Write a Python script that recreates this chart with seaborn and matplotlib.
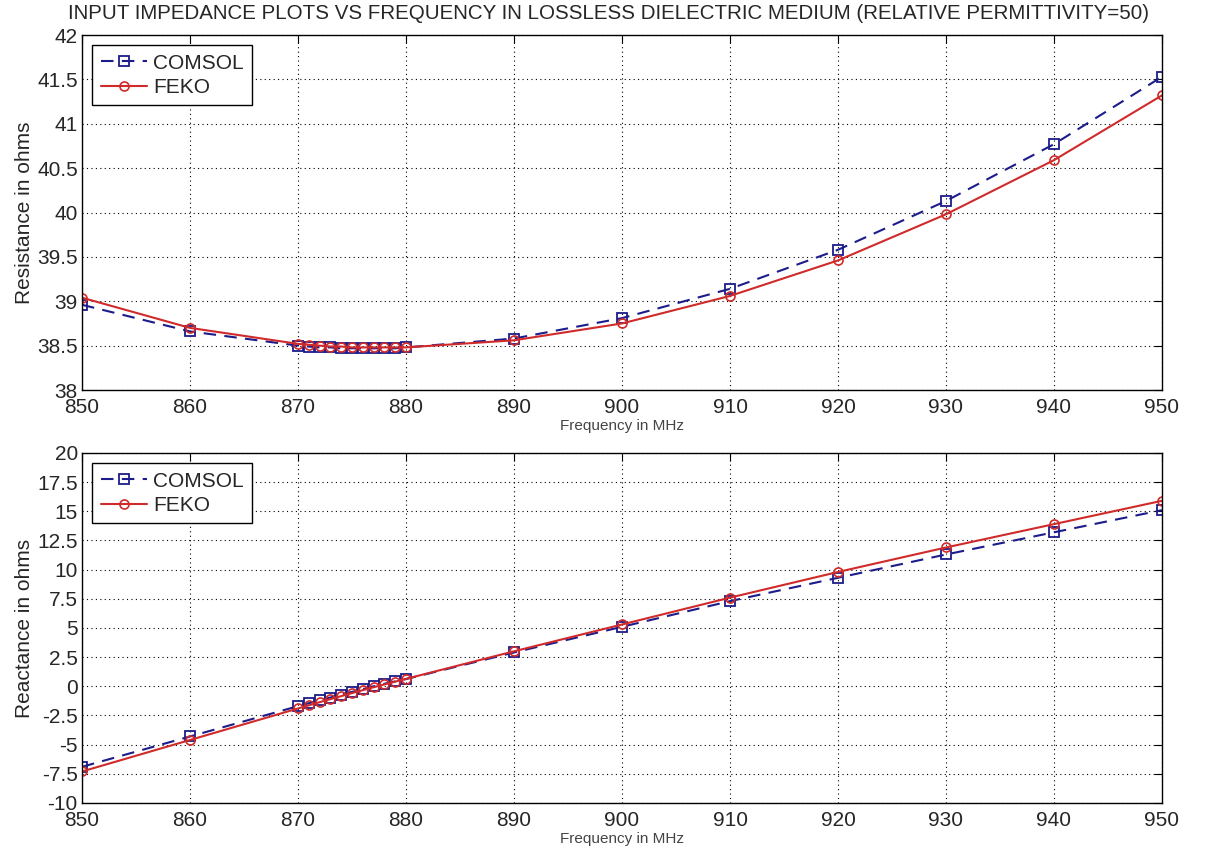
import numpy as np
import pandas as pd
import seaborn as sns
import matplotlib.pyplot as plt
from matplotlib.ticker import FuncFormatter

# frequency points (MHz)
freq = [850, 860, 870, 871, 872, 873, 874, 875, 876, 877, 878, 879, 880,
        890, 900, 910, 920, 930, 940, 950]

# resistance (ohms)
res_comsol = [38.96, 38.66, 38.50, 38.49, 38.48, 38.48, 38.47, 38.47, 38.47, 38.47, 38.47, 38.47, 38.48,
              38.58, 38.81, 39.14, 39.58, 40.13, 40.77, 41.53]
res_feko = [39.04, 38.70, 38.52, 38.51, 38.50, 38.49, 38.49, 38.48, 38.48, 38.48, 38.48, 38.48, 38.48,
            38.56, 38.75, 39.06, 39.46, 39.98, 40.59, 41.32]

# reactance (ohms)
rea_comsol = [-6.9, -4.3, -1.7, -1.45, -1.2, -0.96, -0.72, -0.48, -0.24, 0.0, 0.22, 0.42, 0.62,
              2.9, 5.1, 7.3, 9.3, 11.3, 13.2, 15.1]
rea_feko = [-7.3, -4.6, -1.9, -1.63, -1.36, -1.1, -0.84, -0.58, -0.33, -0.08, 0.16, 0.4, 0.64,
            3.0, 5.3, 7.6, 9.8, 11.9, 13.9, 15.9]

sns.set_style("white")
plt.rcParams['font.family'] = ['Liberation Sans', 'DejaVu Sans']

blue = '#1c1c8a'
red = '#d02a2a'

fig = plt.figure(figsize=(12.17, 8.6), dpi=100)
ax1 = fig.add_axes([0.0674, 0.5465, 0.8874, 0.4128])
ax2 = fig.add_axes([0.0674, 0.0663, 0.8874, 0.407])

def fmt(v, pos):
    return ('%g' % v)

for ax, yc, yf, ylab, ylim, step in [
        (ax1, res_comsol, res_feko, 'Resistance in ohms', (38, 42), 0.5),
        (ax2, rea_comsol, rea_feko, 'Reactance in ohms', (-10, 20), 2.5)]:
    df = pd.DataFrame({'f': freq, 'COMSOL': yc, 'FEKO': yf})
    sns.lineplot(data=df, x='f', y='COMSOL', ax=ax, color=blue, linestyle=(0, (6, 4)),
                 linewidth=1.5, marker='s', markersize=7.5, markerfacecolor='none',
                 markeredgecolor=blue, markeredgewidth=1.3, label='COMSOL')
    sns.lineplot(data=df, x='f', y='FEKO', ax=ax, color=red, linestyle='-',
                 linewidth=1.5, marker='o', markersize=6.5, markerfacecolor='none',
                 markeredgecolor=red, markeredgewidth=1.2, label='FEKO')
    ax.set_xlim(850, 950)
    ax.set_ylim(*ylim)
    ax.set_xticks(np.arange(850, 951, 10))
    ax.set_yticks(np.arange(ylim[0], ylim[1] + step / 2, step))
    ax.yaxis.set_major_formatter(FuncFormatter(fmt))
    ax.grid(True, color='black', linestyle=(0, (1, 3)), linewidth=0.8)
    ax.tick_params(direction='in', top=True, right=True, length=6, labelsize=15,
                   color='black')
    ax.tick_params(axis='x', pad=6)
    ax.tick_params(axis='y', pad=3)
    for s in ax.spines.values():
        s.set_color('black')
        s.set_linewidth(1.0)
    ax.set_ylabel(ylab, fontsize=15, labelpad=2)
    ax.set_xlabel('Frequency in MHz', fontsize=11, color='#444444', labelpad=1)
    leg = ax.legend(loc='upper left', fontsize=15, fancybox=False, framealpha=1,
                    edgecolor='black', borderaxespad=0.5, handlelength=2.2,
                    handletextpad=0.3, borderpad=0.4, labelspacing=0.25)
    leg.get_frame().set_linewidth(1.0)

fig.text(0.5, 0.984, 'INPUT IMPEDANCE PLOTS VS FREQUENCY IN LOSSLESS DIELECTRIC MEDIUM (RELATIVE PERMITTIVITY=50)',
         ha='center', va='center', fontsize=14.8)

fig.savefig('out.png', dpi=100)
